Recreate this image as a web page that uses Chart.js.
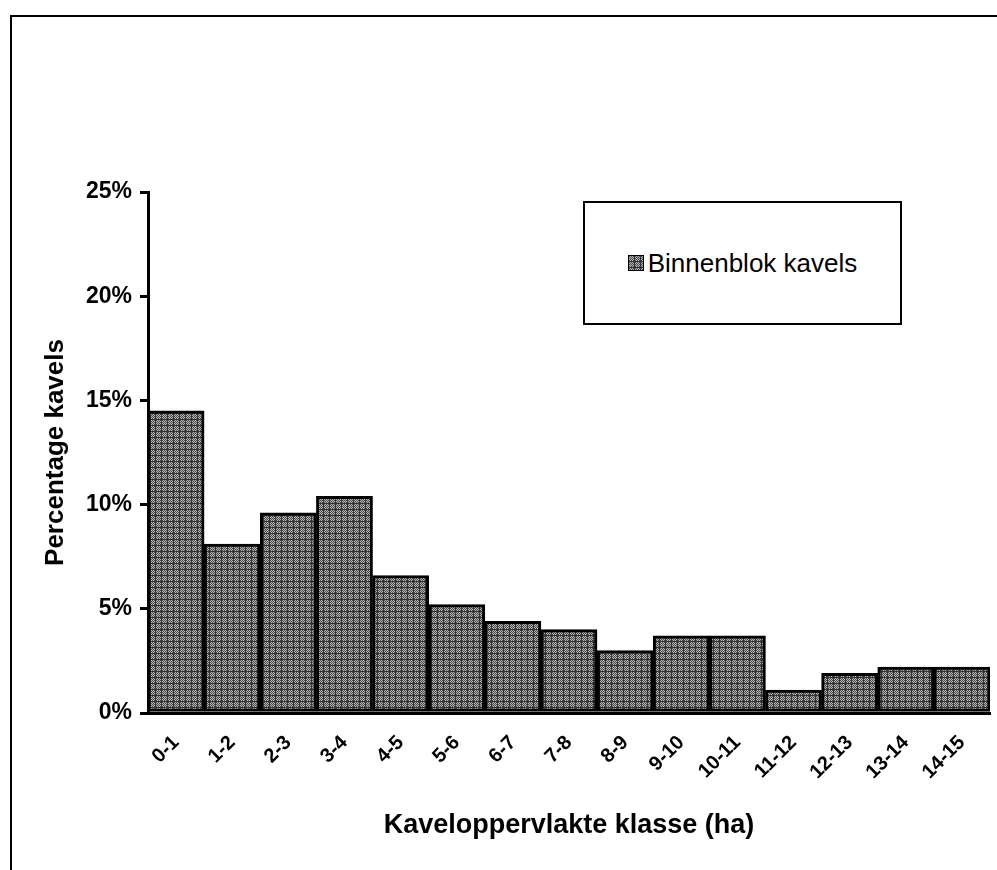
<!DOCTYPE html>
<html lang="nl">
<head>
  <meta charset="UTF-8">
  <title>Kaveloppervlakte klasse</title>
  <style>
    body { margin: 0; background: #fff; }
    .frame {
      position: absolute; left: 10px; top: 15px;
      width: 1000px; height: 900px;
      border: 2px solid #000;
    }
    .canvas_box { position: absolute; left: 0; top: 0; width: 997px; height: 870px; }
    .legend_box {
      position: absolute; left: 583px; top: 201px;
      width: 315px; height: 120px;
      border: 2px solid #000; background: #fff;
      display: flex; align-items: center; justify-content: center;
      font-family: 'Liberation Sans', Arial, sans-serif; font-size: 26px; color: #000;
    }
    .legend_box canvas { border: 1px solid #000; margin-right: 4px; }
  </style>
  <script src="https://cdn.jsdelivr.net/npm/chart.js@4.4.6/dist/chart.umd.min.js"></script>
</head>
<body>
<div class="frame"></div>
<div class="canvas_box">
  <canvas id="myChart" width="997" height="870"></canvas>
</div>
<div class="legend_box" id="legend"></div>
<script>
var categories = ['0-1', '1-2', '2-3', '3-4', '4-5', '5-6', '6-7', '7-8', '8-9', '9-10', '10-11', '11-12', '12-13', '13-14', '14-15'];
var binnenblok = [14.5, 8.1, 9.6, 10.4, 6.6, 5.2, 4.4, 4.0, 3.0, 3.7, 3.7, 1.1, 1.9, 2.2, 2.2];
var yTicks = [0, 5, 10, 15, 20, 25];

// grey scanned-looking fill
function makePattern() {
  var c = document.createElement('canvas');
  c.width = 6; c.height = 6;
  var g = c.getContext('2d');
  for (var y = 0; y < 6; y++) {
    for (var x = 0; x < 6; x++) {
      var col = ((x + y) % 2 == 0) ? '#4c4c4c' : '#b4b4b4';
      if (x == 5 || y == 5) col = '#333333';
      g.fillStyle = col;
      g.fillRect(x, y, 1, 1);
    }
  }
  return c;
}
var patCanvas = makePattern();
var ctx = document.getElementById('myChart');
var fill = ctx.getContext('2d').createPattern(patCanvas, 'repeat');

var font = "'Liberation Sans', Arial, sans-serif";

var myChart = new Chart(ctx, {
  type: 'bar',
  data: {
    labels: categories,
    datasets: [{
      label: 'Binnenblok kavels',
      data: binnenblok,
      backgroundColor: fill,
      borderColor: '#000',
      borderWidth: 3,
      borderSkipped: false,
      barPercentage: 1,
      categoryPercentage: 1
    }]
  },
  options: {
    responsive: false,
    animation: false,
    layout: { padding: { left: 40, right: 7, top: 192, bottom: 28 } },
    plugins: {
      legend: { display: false },
      tooltip: { enabled: false }
    },
    scales: {
      x: {
        afterFit: function(scale) { scale.height = 129; },
        grid: { display: false },
        border: { display: true, color: '#000', width: 3 },
        ticks: {
          color: '#000',
          minRotation: 45, maxRotation: 45,
          padding: 10,
          font: { family: font, size: 20, weight: 'bold' }
        },
        title: {
          display: true,
          text: 'Kaveloppervlakte klasse (ha)',
          color: '#000',
          padding: { top: 0, bottom: 0 },
          font: { family: font, size: 27, weight: 'bold' }
        }
      },
      y: {
        min: 0, max: 25,
        afterFit: function(scale) { scale.width = 108; },
        afterBuildTicks: function(scale) {
          scale.ticks = yTicks.map(function(v) { return { value: v }; });
        },
        grid: { drawOnChartArea: false, color: '#000', lineWidth: 3, tickLength: 8 },
        border: { display: true, color: '#000', width: 3 },
        ticks: {
          color: '#000',
          padding: 8,
          font: { family: font, size: 23, weight: 'bold' },
          callback: function(v) { return v + '%'; }
        },
        title: {
          display: true,
          text: 'Percentage kavels',
          color: '#000',
          padding: { top: 0, bottom: 15 },
          font: { family: font, size: 26, weight: 'bold' }
        }
      }
    }
  }
});

// legend box
var lg = document.getElementById('legend');
var sw = document.createElement('canvas');
sw.width = 14; sw.height = 14;
var sg = sw.getContext('2d');
sg.fillStyle = sg.createPattern(patCanvas, 'repeat');
sg.fillRect(0, 0, 14, 14);
lg.appendChild(sw);
var sp = document.createElement('span');
sp.textContent = myChart.data.datasets[0].label;
lg.appendChild(sp);
</script>
</body>
</html>
